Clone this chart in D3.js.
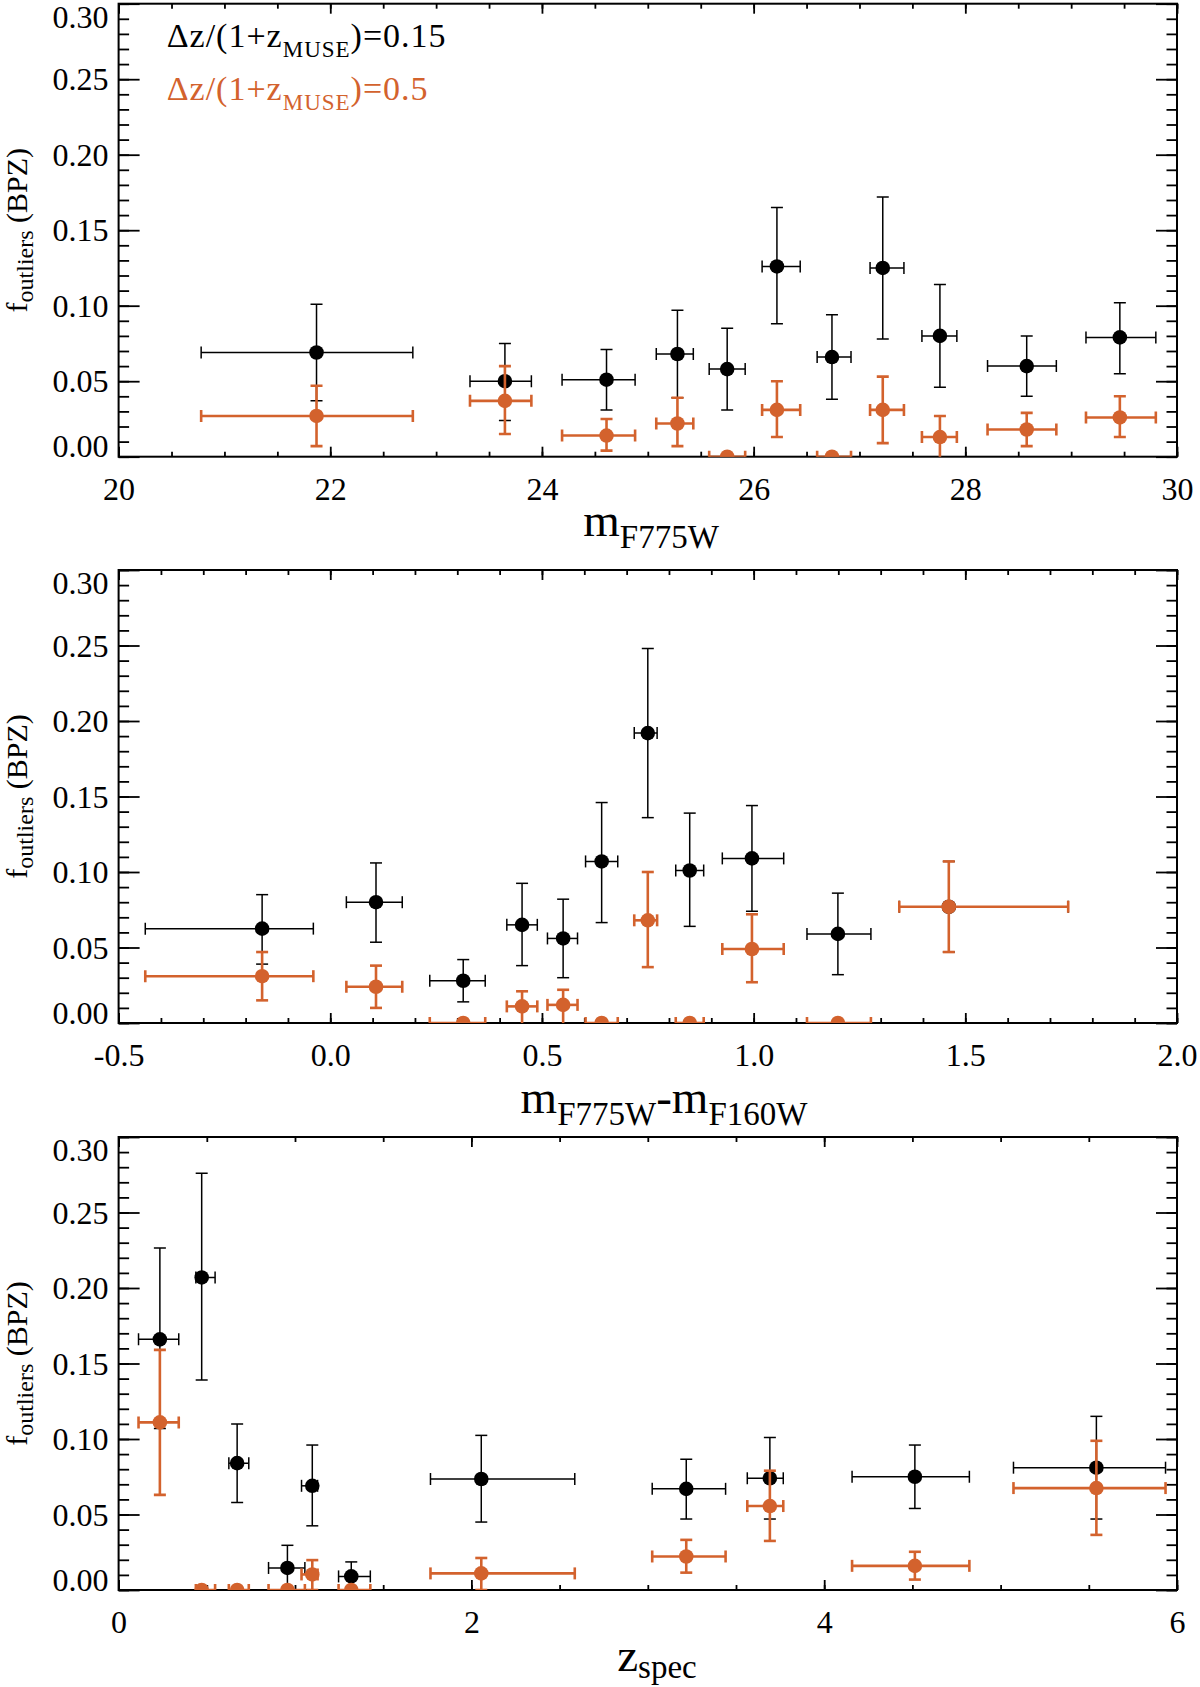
<!DOCTYPE html>
<html>
<head>
<meta charset="utf-8">
<script src="https://cdn.jsdelivr.net/npm/d3@7"></script>
<style>
body { margin: 0; background: #fff; }
svg { display: block; font-family: "Liberation Serif", "Times New Roman", serif; }
</style>
</head>
<body>
<svg width="1200" height="1687"></svg>
<script>
// I.

// Panneau 1 : m_F775W
let magX   = [21.87, 23.65, 24.61, 25.28, 25.75, 26.22, 26.74, 27.22, 27.76, 28.58, 29.46];
let magXLo = [20.78, 23.32, 24.19, 25.08, 25.58, 26.08, 26.60, 27.10, 27.59, 28.21, 29.14];
let magXHi = [22.78, 23.90, 24.88, 25.43, 25.92, 26.44, 26.92, 27.42, 27.92, 28.86, 29.80];
let magNoir   = [0.069, 0.050, 0.051, 0.068, 0.058, 0.126, 0.066, 0.125, 0.080, 0.060, 0.079];
let magNoirLo = [0.037, 0.024, 0.031, 0.039, 0.031, 0.088, 0.038, 0.078, 0.046, 0.040, 0.055];
let magNoirHi = [0.101, 0.075, 0.071, 0.097, 0.085, 0.165, 0.094, 0.172, 0.114, 0.080, 0.102];
let magOrange   = [0.027, 0.037, 0.014, 0.022, 0, 0.031, 0, 0.031, 0.013, 0.018, 0.026];
let magOrangeLo = [0.007, 0.015, 0.004, 0.007, null, 0.013, null, 0.009, -0.005, 0.007, 0.013];
let magOrangeHi = [0.047, 0.060, 0.025, 0.039, null, 0.050, null, 0.053, 0.027, 0.029, 0.040];

// Panneau 2 : m_F775W - m_F160W
let colX   = [-0.161, 0.108, 0.314, 0.453, 0.550, 0.641, 0.750, 0.849, 0.996, 1.199, 1.461];
let colXLo = [-0.437, 0.038, 0.235, 0.417, 0.513, 0.603, 0.718, 0.816, 0.926, 1.126, 1.344];
let colXHi = [-0.040, 0.170, 0.366, 0.489, 0.584, 0.679, 0.772, 0.882, 1.071, 1.277, 1.743];
let colNoir   = [0.0625, 0.080, 0.028, 0.065, 0.056, 0.107, 0.192, 0.101, 0.109, 0.059, 0.077];
let colNoirLo = [0.039, 0.0535, 0.014, 0.038, 0.030, 0.0665, 0.136, 0.064, 0.074, 0.032, 0.047];
let colNoirHi = [0.085, 0.106, 0.042, 0.0925, 0.082, 0.146, 0.248, 0.139, 0.144, 0.086, 0.107];
let colOrange   = [0.031, 0.024, 0, 0.011, 0.012, 0, 0.068, 0, 0.049, 0, 0.077];
let colOrangeLo = [0.015, 0.010, null, -0.005, -0.005, null, 0.037, null, 0.027, null, 0.047];
let colOrangeHi = [0.047, 0.038, null, 0.021, 0.022, null, 0.100, null, 0.072, null, 0.107];

// Panneau 3 : z_spec
let zX   = [0.234, 0.471, 0.672, 0.957, 1.098, 1.319, 2.056, 3.218, 3.692, 4.514, 5.543];
let zXLo = [0.113, 0.438, 0.625, 0.850, 1.037, 1.247, 1.768, 3.025, 3.564, 4.158, 5.073];
let zXHi = [0.341, 0.547, 0.738, 1.056, 1.128, 1.427, 2.586, 3.441, 3.768, 4.823, 5.935];
let zNoir   = [0.166, 0.207, 0.084, 0.0146, 0.069, 0.009, 0.0735, 0.067, 0.074, 0.075, 0.081];
let zNoirLo = [0.107, 0.139, 0.058, 0, 0.0425, 0, 0.045, 0.047, 0.047, 0.054, 0.047];
let zNoirHi = [0.2265, 0.276, 0.110, 0.0296, 0.096, 0.0186, 0.1024, 0.0866, 0.101, 0.096, 0.115];
let zOrange   = [0.111, 0, 0, 0, 0.0103, 0, 0.011, 0.0222, 0.0556, 0.016, 0.0675];
let zOrangeLo = [0.063, null, null, null, 0, null, 0, 0.0115, 0.0325, 0.0069, 0.0365];
let zOrangeHi = [0.159, null, null, null, 0.0198, null, 0.0212, 0.0332, 0.079, 0.0253, 0.0988];

// Graduations
let magTicks = [20, 22, 24, 26, 28, 30];
let colTicks = [-0.5, 0.0, 0.5, 1.0, 1.5, 2.0];
let zTicks = [0, 2, 4, 6];
let yTicks = [0, 0.05, 0.10, 0.15, 0.20, 0.25, 0.30];
let legendeValeurs = ["0.15", "0.5"];

// II. Dessin
let svg = d3.select("svg");

const orange = "#d3622d";
const gauche = 118.6, droite = 1177, hauteur = 453;

// Regroupe les tableaux en points
function points(x, xLo, xHi, y, lo, hi) {
    return x.map((d, i) => ({ x: d, xLo: xLo[i], xHi: xHi[i], y: y[i], lo: lo[i], hi: hi[i] }));
}

let panneaux = [
    {
        haut: 3.7, domaine: [20, 30], ticks: magTicks, mineurs: 20, format: d => d3.format("d")(d),
        noir: points(magX, magXLo, magXHi, magNoir, magNoirLo, magNoirHi),
        orange: points(magX, magXLo, magXHi, magOrange, magOrangeLo, magOrangeHi),
        label: [["m", 0], ["F775W", 1]], labelX: 651, labelY: 536, sub: 12
    },
    {
        haut: 570, domaine: [-0.5, 2.0], ticks: colTicks, mineurs: 25, format: d => d3.format(".1f")(d).replace("−", "-"),
        noir: points(colX, colXLo, colXHi, colNoir, colNoirLo, colNoirHi),
        orange: points(colX, colXLo, colXHi, colOrange, colOrangeLo, colOrangeHi),
        label: [["m", 0], ["F775W", 1], ["-m", 0], ["F160W", 1]], labelX: 664, labelY: 1113, sub: 12
    },
    {
        haut: 1137, domaine: [0, 6], ticks: zTicks, mineurs: 12, format: d => d3.format("d")(d),
        noir: points(zX, zXLo, zXHi, zNoir, zNoirLo, zNoirHi),
        orange: points(zX, zXLo, zXHi, zOrange, zOrangeLo, zOrangeHi),
        label: [["z", 0], ["spec", 1]], labelX: 657, labelY: 1671, sub: 7
    }
];

// Dessine une série avec barres d'erreur
function serie(g, data, x, y, couleur, epaisseur) {
    let cap = 6;
    let s = g.append("g").attr("stroke", couleur).attr("stroke-width", epaisseur);

    // barres horizontales
    s.selectAll("line.h").data(data).join("line").attr("class", "h")
        .attr("x1", d => x(d.xLo)).attr("x2", d => x(d.xHi))
        .attr("y1", d => y(d.y)).attr("y2", d => y(d.y));
    s.selectAll("line.hg").data(data).join("line").attr("class", "hg")
        .attr("x1", d => x(d.xLo)).attr("x2", d => x(d.xLo))
        .attr("y1", d => y(d.y) - cap).attr("y2", d => y(d.y) + cap);
    s.selectAll("line.hd").data(data).join("line").attr("class", "hd")
        .attr("x1", d => x(d.xHi)).attr("x2", d => x(d.xHi))
        .attr("y1", d => y(d.y) - cap).attr("y2", d => y(d.y) + cap);

    // barres verticales
    let av = data.filter(d => d.lo !== null);
    s.selectAll("line.v").data(av).join("line").attr("class", "v")
        .attr("x1", d => x(d.x)).attr("x2", d => x(d.x))
        .attr("y1", d => y(d.lo)).attr("y2", d => y(d.hi));
    s.selectAll("line.vb").data(av).join("line").attr("class", "vb")
        .attr("x1", d => x(d.x) - cap).attr("x2", d => x(d.x) + cap)
        .attr("y1", d => y(d.lo)).attr("y2", d => y(d.lo));
    s.selectAll("line.vh").data(av).join("line").attr("class", "vh")
        .attr("x1", d => x(d.x) - cap).attr("x2", d => x(d.x) + cap)
        .attr("y1", d => y(d.hi)).attr("y2", d => y(d.hi));

    g.append("g").selectAll("circle").data(data).join("circle")
        .attr("cx", d => x(d.x)).attr("cy", d => y(d.y))
        .attr("r", 7.3).attr("fill", couleur);
}

function styleAxe(a) {
    a.attr("font-family", null).attr("font-size", null);
    a.select(".domain").remove();
    a.selectAll("line").attr("stroke", "#000").attr("stroke-width", 1.8);
}

panneaux.forEach(function (p, i) {
    let haut = p.haut, bas = p.haut + hauteur;
    let x = d3.scaleLinear().domain(p.domaine).range([gauche, droite]);
    let y = d3.scaleLinear().domain([0, 0.30]).range([bas, haut]);
    let g = svg.append("g");

    // graduations mineures
    g.append("g").attr("transform", `translate(0,${bas})`)
        .call(d3.axisBottom(x).tickValues(x.ticks(p.mineurs)).tickSize(-5).tickFormat("")).call(styleAxe);
    g.append("g").attr("transform", `translate(0,${haut})`)
        .call(d3.axisTop(x).tickValues(x.ticks(p.mineurs)).tickSize(-5).tickFormat("")).call(styleAxe);
    g.append("g").attr("transform", `translate(${gauche},0)`)
        .call(d3.axisLeft(y).tickValues(y.ticks(30)).tickSize(-10.5).tickFormat("")).call(styleAxe);
    g.append("g").attr("transform", `translate(${droite},0)`)
        .call(d3.axisRight(y).tickValues(y.ticks(30)).tickSize(-10.5).tickFormat("")).call(styleAxe);

    // graduations majeures
    let ax = g.append("g").attr("transform", `translate(0,${bas})`)
        .call(d3.axisBottom(x).tickValues(p.ticks).tickSize(-10).tickFormat(p.format)).call(styleAxe);
    ax.selectAll("text").attr("y", 43).attr("dy", 0).attr("fill", "#000").style("font-size", "32px");
    g.append("g").attr("transform", `translate(0,${haut})`)
        .call(d3.axisTop(x).tickValues(p.ticks).tickSize(-10).tickFormat("")).call(styleAxe);

    let ay = g.append("g").attr("transform", `translate(${gauche},0)`)
        .call(d3.axisLeft(y).tickValues(yTicks).tickSize(-21).tickFormat(d3.format(".2f"))).call(styleAxe);
    ay.selectAll("text").attr("x", -10).attr("fill", "#000").style("font-size", "32px")
        .attr("dy", (d, k) => k == 0 ? "0em" : (k == yTicks.length - 1 ? "0.74em" : "0.33em"));
    g.append("g").attr("transform", `translate(${droite},0)`)
        .call(d3.axisRight(y).tickValues(yTicks).tickSize(-21).tickFormat("")).call(styleAxe);

    // cadre
    g.append("rect").attr("x", gauche).attr("y", haut)
        .attr("width", droite - gauche).attr("height", hauteur)
        .attr("fill", "none").attr("stroke", "#000").attr("stroke-width", 2);

    // données (découpées au cadre)
    svg.append("clipPath").attr("id", "clip" + i).append("rect")
        .attr("x", gauche).attr("y", haut).attr("width", droite - gauche).attr("height", hauteur);
    let gd = g.append("g").attr("clip-path", `url(#clip${i})`);
    serie(gd, p.noir, x, y, "#000", 1.5);
    serie(gd, p.orange, x, y, orange, 2.6);

    // titre de l'axe x
    let tx = g.append("text").attr("x", p.labelX).attr("y", p.labelY)
        .attr("text-anchor", "middle").style("font-size", "47px");
    let decal = 0;
    p.label.forEach(function (l) {
        let nouveau = l[1] ? p.sub : 0;
        tx.append("tspan").attr("dy", nouveau - decal)
            .style("font-size", l[1] ? "33px" : "47px").text(l[0]);
        decal = nouveau;
    });

    // titre de l'axe y
    let ty = g.append("text")
        .attr("transform", `translate(27,${haut + hauteur / 2}) rotate(-90)`)
        .attr("text-anchor", "middle").style("font-size", "30px");
    ty.append("tspan").text("f");
    ty.append("tspan").attr("dy", 6).style("font-size", "24px").text("outliers");
    ty.append("tspan").attr("dy", -6).text(" (BPZ)");
});

// Légende
[["#000", 46.7], [orange, 100]].forEach(function (l, i) {
    let t = svg.append("text").attr("x", 166.7).attr("y", l[1]).attr("fill", l[0])
        .style("font-size", "34px").style("letter-spacing", "1px");
    t.append("tspan").text("Δz/(1+z");
    t.append("tspan").attr("dy", 10).style("font-size", "23px").text("MUSE");
    t.append("tspan").attr("dy", -10).text(")=" + legendeValeurs[i]);
});
</script>
</body>
</html>
